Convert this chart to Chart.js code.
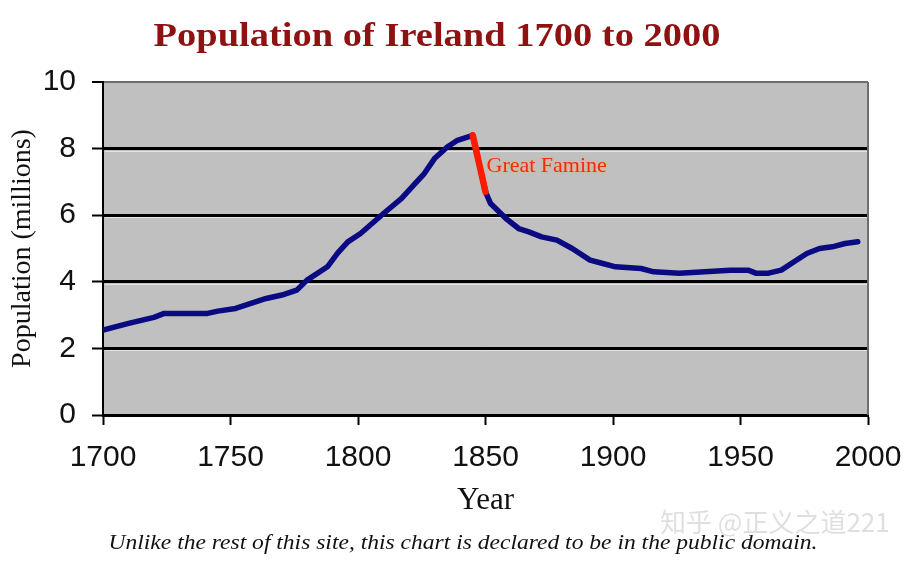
<!DOCTYPE html>
<html>
<head>
<meta charset="utf-8">
<script src="https://cdn.jsdelivr.net/npm/chart.js@4.4.1/dist/chart.umd.min.js"></script>
<style>
  html, body { margin: 0; padding: 0; background: #fff; }
  #wrap { width: 910px; height: 564px; position: relative; }
</style>
</head>
<body>
<div id="wrap"><canvas id="popChart"></canvas></div>
<script>
// population of Ireland, millions
const popYears = [1700, 1710, 1720, 1724, 1741, 1745, 1752, 1758, 1764, 1771, 1776, 1780, 1788, 1792, 1796, 1801,
    1810, 1817, 1823, 1826, 1830, 1835, 1839, 1845, 1850, 1852, 1858, 1863, 1867, 1872, 1878, 1884, 1891, 1896,
    1901, 1911, 1916, 1926, 1936, 1946, 1953, 1956, 1961, 1966, 1971, 1976, 1981, 1986, 1991, 1996];
const popMillions = [2.55, 2.75, 2.93, 3.05, 3.05, 3.12, 3.2, 3.35, 3.5, 3.62, 3.75, 4.05, 4.45, 4.86, 5.2, 5.45,
    6.05, 6.5, 7.0, 7.25, 7.7, 8.05, 8.25, 8.4, 6.7, 6.35, 5.9, 5.6, 5.5, 5.35, 5.25, 5.0, 4.65, 4.55,
    4.45, 4.4, 4.3, 4.26, 4.3, 4.35, 4.35, 4.26, 4.26, 4.35, 4.6, 4.85, 5.0, 5.05, 5.15, 5.2];

const famineYears = [1845, 1850];
const famineMillions = [8.4, 6.7];
const famineLabel = 'Great Famine';

const yearTicks = [1700, 1750, 1800, 1850, 1900, 1950, 2000];
const popTicks = [0, 2, 4, 6, 8, 10];

const toPoints = (xs, ys) => xs.map((x, i) => ({ x: x, y: ys[i] }));

// draw text stretched horizontally to a given width
function stretchText(ctx, text, cx, y, width) {
    const w = ctx.measureText(text).width;
    ctx.save();
    ctx.translate(cx, y);
    ctx.scale(width / w, 1);
    ctx.textAlign = 'center';
    ctx.fillText(text, 0, 0);
    ctx.restore();
}

const textPlugin = {
    id: 'extras',
    beforeDraw(chart) {
        const { ctx, chartArea: a } = chart;
        ctx.save();
        ctx.fillStyle = '#c0c0c0';
        ctx.fillRect(a.left, a.top, a.right - a.left, a.bottom - a.top);
        ctx.restore();
    },
    beforeDatasetsDraw(chart) {
        const { ctx, chartArea: a, scales: { y } } = chart;
        ctx.save();
        // light bevel line under each grid line
        ctx.strokeStyle = '#e4e4e4';
        ctx.lineWidth = 1;
        popTicks.slice(1, -1).forEach(v => {
            const py = Math.round(y.getPixelForValue(v)) + 2.5;
            ctx.beginPath();
            ctx.moveTo(a.left + 2, py);
            ctx.lineTo(a.right, py);
            ctx.stroke();
        });
        // right frame
        ctx.strokeStyle = '#6e6e6e';
        ctx.lineWidth = 2;
        ctx.beginPath();
        ctx.moveTo(a.right, a.top);
        ctx.lineTo(a.right, a.bottom);
        ctx.stroke();
        ctx.restore();
    },
    afterDraw(chart) {
        const { ctx, scales: { x, y } } = chart;
        ctx.save();
        ctx.textBaseline = 'alphabetic';
        // title
        ctx.fillStyle = '#8e1212';
        ctx.font = 'bold 33px "Liberation Serif", serif';
        stretchText(ctx, 'Population of Ireland 1700 to 2000', 437, 46, 567);

        // famine label
        ctx.font = '22px "Liberation Serif", serif';
        ctx.textAlign = 'left';
        ctx.shadowColor = 'rgba(255,170,90,0.9)';
        ctx.shadowBlur = 3;
        ctx.fillStyle = '#f42a10';
        ctx.fillText(famineLabel, x.getPixelForValue(famineYears[1]) + 1, y.getPixelForValue(7.3));
        ctx.shadowBlur = 0;

        // footnote
        ctx.fillStyle = '#111';
        ctx.font = 'italic 22px "Liberation Serif", serif';
        stretchText(ctx, 'Unlike the rest of this site, this chart is declared to be in the public domain.', 463, 549, 709);

        // watermark
        ctx.font = '26px "Noto Sans CJK SC", sans-serif';
        ctx.textAlign = 'left';
        ctx.fillStyle = 'rgba(210,210,210,0.7)';
        ctx.fillText('知乎 @正义之道221', 660, 532);
        ctx.restore();
    }
};

new Chart(document.getElementById('popChart').getContext('2d'), {
    type: 'line',
    data: {
        datasets: [{
            label: famineLabel,
            data: toPoints(famineYears, famineMillions),
            borderColor: '#ff1a00',
            borderWidth: 6.5,
            borderCapStyle: 'round',
            pointRadius: 0,
            tension: 0,
            order: 0
        }, {
            label: 'Population',
            data: toPoints(popYears, popMillions),
            borderColor: '#0a0a82',
            borderWidth: 5.5,
            borderCapStyle: 'round',
            borderJoinStyle: 'round',
            pointRadius: 0,
            tension: 0,
            order: 1
        }]
    },
    options: {
        responsive: true,
        maintainAspectRatio: false,
        animation: false,
        layout: { padding: { top: 82, right: 42, left: 0, bottom: 0 } },
        plugins: {
            legend: { display: false },
            tooltip: { enabled: false }
        },
        scales: {
            x: {
                type: 'linear',
                min: 1700,
                max: 2000,
                afterFit: s => { s.height = 149; s.paddingLeft = 0; s.paddingRight = 0; },
                afterBuildTicks: s => { s.ticks = yearTicks.map(v => ({ value: v })); },
                ticks: {
                    color: '#111',
                    padding: 15,
                    maxRotation: 0,
                    font: { family: '"Liberation Sans", Arial, sans-serif', size: 30 },
                    callback: v => String(v)
                },
                grid: { drawOnChartArea: false, tickLength: 10, tickColor: '#000', tickWidth: 2 },
                border: { color: '#000', width: 3 },
                title: {
                    display: true,
                    text: 'Year',
                    color: '#111',
                    font: { family: '"Liberation Serif", serif', size: 31 },
                    padding: { top: 0, bottom: 45 }
                }
            },
            y: {
                min: 0,
                max: 10,
                afterFit: s => { s.width = 103; },
                afterBuildTicks: s => { s.ticks = popTicks.map(v => ({ value: v })); },
                ticks: {
                    color: '#111',
                    padding: 16,
                    font: { family: '"Liberation Sans", Arial, sans-serif', size: 30 }
                },
                grid: {
                    color: c => c.tick && c.tick.value === 10 ? '#6e6e6e' : '#000',
                    lineWidth: c => c.tick && c.tick.value === 10 ? 2 : 3,
                    tickLength: 11,
                    tickColor: '#000',
                    tickWidth: 2
                },
                border: { color: '#000', width: 2 },
                title: {
                    display: true,
                    text: 'Population (millions)',
                    color: '#111',
                    font: { family: '"Liberation Serif", serif', size: 28 },
                    padding: { top: 6, bottom: 0 }
                }
            }
        }
    },
    plugins: [textPlugin]
});
</script>
</body>
</html>
